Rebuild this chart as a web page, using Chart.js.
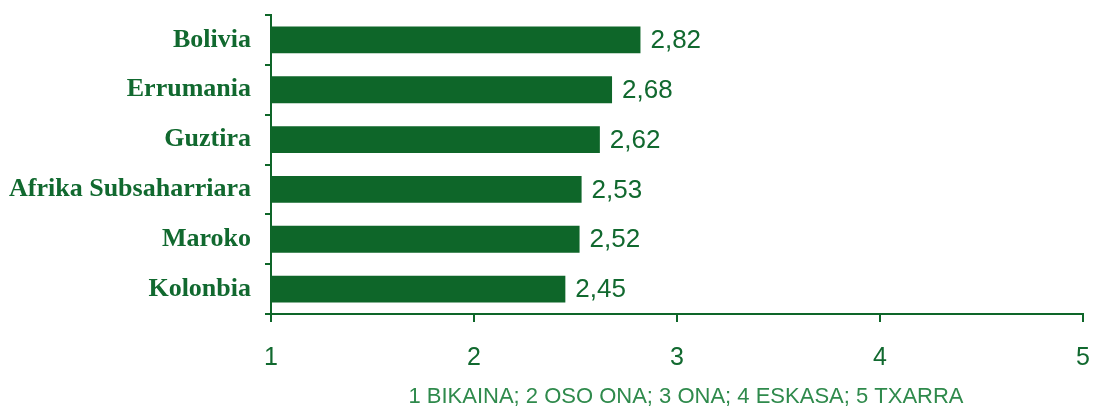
<!DOCTYPE html>
<html>
<head>
<meta charset="utf-8">
<script src="https://cdn.jsdelivr.net/npm/chart.js@4/dist/chart.umd.min.js"></script>
<style>
  html, body { margin: 0; padding: 0; background: #fff; }
  #wrap { width: 1093px; height: 407px; }
</style>
</head>
<body>
<div id="wrap"><canvas id="chart" width="1093" height="407"></canvas></div>
<script>
const categories = ['Bolivia', 'Errumania', 'Guztira', 'Afrika Subsaharriara', 'Maroko', 'Kolonbia'];
const values = [2.82, 2.68, 2.62, 2.53, 2.52, 2.45];
const xTicks = [1, 2, 3, 4, 5];
const footnote = '1 BIKAINA; 2 OSO ONA; 3 ONA; 4 ESKASA; 5 TXARRA';

const GREEN = '#0e6629';
const TEXT_GREEN = '#11692f';

// Value labels to the right of each bar + footnote under the axis
const extras = {
    id: 'extras',
    afterDatasetsDraw(chart) {
        const ctx = chart.ctx;
        const meta = chart.getDatasetMeta(0);
        ctx.save();
        ctx.fillStyle = TEXT_GREEN;
        ctx.font = '26px "Liberation Sans", Arial, sans-serif';
        ctx.textBaseline = 'middle';
        ctx.textAlign = 'left';
        meta.data.forEach((bar, i) => {
            const txt = values[i].toFixed(2).replace('.', ',');
            ctx.fillText(txt, bar.x + 10, bar.y + 1);
        });
        ctx.restore();
    },
    afterDraw(chart) {
        const ctx = chart.ctx;
        ctx.save();
        ctx.fillStyle = '#2f8a4c';
        ctx.font = '22px "Liberation Sans", Arial, sans-serif';
        ctx.textAlign = 'center';
        ctx.textBaseline = 'alphabetic';
        ctx.fillText(footnote, 686, 403);
        ctx.restore();
    }
};

new Chart(document.getElementById('chart'), {
    type: 'bar',
    data: {
        labels: categories,
        datasets: [{
            data: values,
            backgroundColor: GREEN,
            borderWidth: 0,
            categoryPercentage: 1,
            barPercentage: 0.54
        }]
    },
    options: {
        indexAxis: 'y',
        responsive: false,
        animation: false,
        layout: { padding: { top: 15, right: 10, left: 0, bottom: 12 } },
        plugins: {
            legend: { display: false },
            tooltip: { enabled: false }
        },
        scales: {
            x: {
                min: 1,
                max: 5,
                afterBuildTicks(axis) {
                    axis.ticks = xTicks.map(v => ({ value: v }));
                },
                border: { color: GREEN, width: 2 },
                grid: {
                    drawOnChartArea: false,
                    color: GREEN,
                    lineWidth: 2,
                    tickLength: 8
                },
                ticks: {
                    color: TEXT_GREEN,
                    font: { family: '"Liberation Sans", Arial, sans-serif', size: 25, lineHeight: 1 },
                    padding: 24
                },
                afterFit(axis) {
                    axis.paddingLeft = 0;
                    axis.paddingRight = 0;
                }
            },
            y: {
                border: { color: GREEN, width: 2 },
                grid: {
                    drawOnChartArea: false,
                    color: GREEN,
                    lineWidth: 2,
                    tickLength: 6
                },
                ticks: {
                    color: TEXT_GREEN,
                    font: { family: '"Liberation Serif", "Times New Roman", serif', size: 26, weight: 'bold' },
                    padding: 14
                },
                afterFit(axis) {
                    axis.width = 271;
                    axis.paddingTop = 0;
                    axis.paddingBottom = 0;
                }
            }
        }
    },
    plugins: [extras]
});
</script>
</body>
</html>
